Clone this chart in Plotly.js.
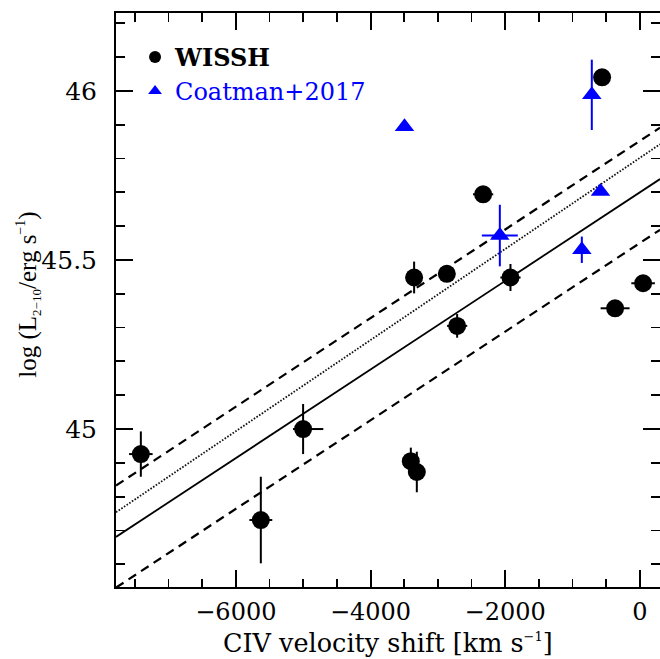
<!DOCTYPE html>
<html>
<head>
<meta charset="utf-8">
<script src="https://cdn.plot.ly/plotly-3.0.1.min.js"></script>
<style>html,body{margin:0;padding:0;background:#fff;}#chart{width:660px;height:659px;}</style>
</head>
<body>
<div id="chart"></div>
<script>
// WISSH sample
const wisshX    = [-560, -2327, -3352, -2866, -1921, 49, -367, -2713, -7411, -5001, -5629, -3401, -3312];
const wisshY    = [46.04, 45.694, 45.448, 45.459, 45.448, 45.431, 45.357, 45.305, 44.926, 45.0, 44.731, 44.905, 44.873];
const wisshXErrPlus  = [0, 150, 100, 0, 150, 175, 215, 150, 175, 300, 170, 0, 0];
const wisshXErrMinus = [0, 150, 100, 0, 150, 175, 215, 150, 175, 150, 170, 0, 0];
const wisshYErr = [0, 0.02, 0.047, 0, 0.04, 0, 0, 0.035, 0.067, 0.074, 0.128, 0.04, 0.06];

// Coatman+2017 sample
const coatX    = [-713, -3495, -584, -2079, -861];
const coatY    = [45.988, 45.894, 45.702, 45.572, 45.530];
const coatXErr = [0, 0, 0, 267, 0];
const coatYErr = [0.104, 0, 0, 0.091, 0.039];

// Fitted relations (end points)
const fitX        = [-7780, 300];
const fitSolidY   = [44.681, 45.739];
const fitUpperY   = [44.833, 45.891];
const fitLowerY   = [44.531, 45.589];
const fitDottedY  = [44.754, 45.842];

// Axis ticks and titles
const xTickVals = [-6000, -4000, -2000, 0];
const xTickText = ['\u22126000', '\u22124000', '\u22122000', '0'];
const yTickVals = [45, 45.5, 46];
const yTickText = ['45', '45.5', '46'];
const xTitle = 'CIV velocity shift [km s<sup><span style="font-size:13px">\u22121</span></sup>]';
const yTitle = 'log (L<sub><span style="font-size:13px">2\u221210</span></sub>/erg s<sup><span style="font-size:14px">\u22121</span></sup>)';

const FONT = 'DejaVu Serif, Liberation Serif, serif';
const FONT_Y = 'Liberation Serif, DejaVu Serif, serif';

const traces = [
  {x: fitX, y: fitSolidY, mode: 'lines', line: {color: '#000', width: 1.8}, showlegend: false, hoverinfo: 'skip'},
  {x: fitX, y: fitUpperY, mode: 'lines', line: {color: '#000', width: 2.2, dash: '9px,6px'}, showlegend: false, hoverinfo: 'skip'},
  {x: fitX, y: fitLowerY, mode: 'lines', line: {color: '#000', width: 2.2, dash: '9px,6px'}, showlegend: false, hoverinfo: 'skip'},
  {x: fitX, y: fitDottedY, mode: 'lines', line: {color: '#111', width: 1.8, dash: '1.6px,1.6px'}, showlegend: false, hoverinfo: 'skip'},
  {
    x: wisshX, y: wisshY, mode: 'markers', name: '<b>WISSH</b>',
    marker: {symbol: 'circle', size: 18, color: '#000'},
    error_x: {type: 'data', symmetric: false, array: wisshXErrPlus, arrayminus: wisshXErrMinus, width: 0, thickness: 2, color: '#000'},
    error_y: {type: 'data', array: wisshYErr, width: 0, thickness: 2, color: '#000'}
  },
  {
    x: coatX, y: coatY, mode: 'markers', name: '<span style="color:#0000ff">Coatman+2017</span>',
    marker: {symbol: 'triangle-up', size: 17, color: '#0000ff'},
    error_x: {type: 'data', array: coatXErr, width: 0, thickness: 2, color: '#0000ff'},
    error_y: {type: 'data', array: coatYErr, width: 0, thickness: 2, color: '#0000ff'}
  }
];

const axisCommon = {
  showgrid: false, zeroline: false, showline: true, linecolor: '#000', linewidth: 2,
  mirror: 'allticks', ticks: 'inside', ticklen: 17, tickwidth: 2, tickcolor: '#000',
  tickfont: {family: FONT, size: 25, color: '#000'}
};

const layout = {
  width: 660, height: 659,
  margin: {l: 116, r: 0, t: 13, b: 72},
  paper_bgcolor: '#fff', plot_bgcolor: '#fff',
  font: {family: FONT, color: '#000'},
  xaxis: Object.assign({}, axisCommon, {
    range: [-7780, 300],
    tickmode: 'array', tickvals: xTickVals, ticktext: xTickText,
    ticklabelstandoff: 2,
    tickfont: {family: FONT, size: 24, color: '#000'},
    minor: {dtick: 500, ticks: 'inside', ticklen: 8.5, tickwidth: 1.8, tickcolor: '#000', showgrid: false}
  }),
  yaxis: Object.assign({}, axisCommon, {
    range: [44.533, 46.23],
    tickmode: 'array', tickvals: yTickVals, ticktext: yTickText,
    ticklabelstandoff: 12,
    minor: {dtick: 0.1, ticks: 'inside', ticklen: 9, tickwidth: 1.8, tickcolor: '#000', showgrid: false}
  }),
  annotations: [
    {
      text: yTitle, xref: 'paper', yref: 'paper', x: -0.161, y: 0.51,
      xanchor: 'center', yanchor: 'middle', textangle: -90, showarrow: false,
      font: {family: FONT_Y, size: 25, color: '#000'}
    },
    {
      text: xTitle, xref: 'paper', yref: 'paper', x: 0.5, y: -0.1254,
      xanchor: 'center', yanchor: 'bottom', showarrow: false, borderpad: 0,
      font: {family: FONT, size: 25.5, color: '#000'}
    }
  ],
  legend: {
    x: 0.035, y: 0.962, xanchor: 'left', yanchor: 'top',
    bgcolor: 'rgba(0,0,0,0)', borderwidth: 0,
    font: {family: FONT, size: 24, color: '#000'},
    itemsizing: 'constant', itemwidth: 30
  },
  showlegend: true
};

Plotly.newPlot('chart', traces, layout, {displayModeBar: false, staticPlot: true});
</script>
</body>
</html>
